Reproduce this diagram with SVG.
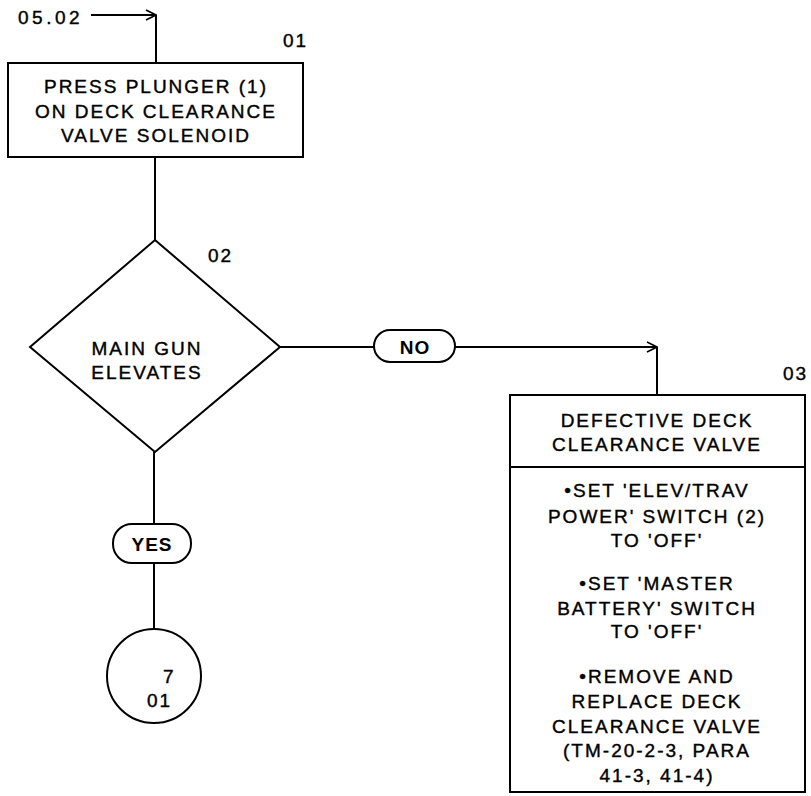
<svg xmlns="http://www.w3.org/2000/svg" width="811" height="796" viewBox="0 0 811 796">
<defs>
<marker id="arr" viewBox="0 0 12 12" refX="11" refY="6" markerWidth="12" markerHeight="12" markerUnits="userSpaceOnUse" orient="auto">
<path d="M1,1 L11,6 L1,11" fill="none" stroke="#000" stroke-width="1.6"/>
</marker>
<style>
.s{fill:none;stroke:#000;stroke-width:2}
.t{font-family:"Liberation Sans",Arial,sans-serif;font-size:19px;fill:#000;stroke:#000;stroke-width:0.4;letter-spacing:2px;text-anchor:middle}
.b{font-family:"Liberation Sans",Arial,sans-serif;font-size:19px;font-weight:bold;fill:#000;text-anchor:middle;letter-spacing:1px}
.n{font-family:"Liberation Sans",Arial,sans-serif;font-size:19px;fill:#000;stroke:#000;stroke-width:0.4;letter-spacing:2px}
</style>
</defs>
<rect width="811" height="796" fill="#fff"/>
<g id="connectors">
<path class="s" d="M91,15 H156" marker-end="url(#arr)"/>
<path class="s" d="M156,15 V63"/>
<path class="s" d="M155,157 V240"/>
<path class="s" d="M280,347 H374"/>
<path class="s" d="M455,347 H657" marker-end="url(#arr)"/>
<path class="s" d="M657,347 V395"/>
<path class="s" d="M154,452 V523"/>
<path class="s" d="M154,563 V629"/>
</g>
<g id="entry">
<text class="n" x="18" y="24" style="letter-spacing:3.5px">05.02</text>
</g>
<g id="n01">
<text class="n" x="283" y="47">01</text>
<rect class="s" x="8" y="63" width="295" height="94"/>
<text class="t" x="156" y="93">PRESS PLUNGER (1)</text>
<text class="t" x="156" y="118">ON DECK CLEARANCE</text>
<text class="t" x="156" y="142">VALVE SOLENOID</text>
</g>
<g id="n02">
<text class="n" x="208" y="262">02</text>
<path class="s" d="M155,240 L280,347 L155,452 L30,347 Z"/>
<text class="t" x="147" y="355">MAIN GUN</text>
<text class="t" x="147" y="379">ELEVATES</text>
</g>
<g id="no">
<rect class="s" x="374" y="330" width="81" height="32" rx="16"/>
<text class="b" x="415" y="354">NO</text>
</g>
<g id="yes">
<rect class="s" x="113" y="524" width="78" height="39" rx="19"/>
<text class="b" x="152" y="551">YES</text>
</g>
<g id="n03">
<text class="n" x="783" y="380">03</text>
<rect class="s" x="510" y="395" width="295" height="397"/>
<path class="s" d="M510,467 H805"/>
<text class="t" x="657" y="427">DEFECTIVE DECK</text>
<text class="t" x="657" y="451">CLEARANCE VALVE</text>
<text class="t" x="657" y="497">•SET 'ELEV/TRAV</text>
<text class="t" x="657" y="523">POWER' SWITCH (2)</text>
<text class="t" x="657" y="547">TO 'OFF'</text>
<text class="t" x="657" y="590">•SET 'MASTER</text>
<text class="t" x="657" y="615">BATTERY' SWITCH</text>
<text class="t" x="657" y="638">TO 'OFF'</text>
<text class="t" x="657" y="683">•REMOVE AND</text>
<text class="t" x="657" y="708">REPLACE DECK</text>
<text class="t" x="657" y="733">CLEARANCE VALVE</text>
<text class="t" x="657" y="757">(TM-20-2-3, PARA</text>
<text class="t" x="657" y="782">41-3, 41-4)</text>
</g>
<g id="ref">
<circle class="s" cx="154" cy="676" r="47"/>
<text class="n" x="163" y="683">7</text>
<text class="n" x="147" y="707">01</text>
</g>
</svg>
